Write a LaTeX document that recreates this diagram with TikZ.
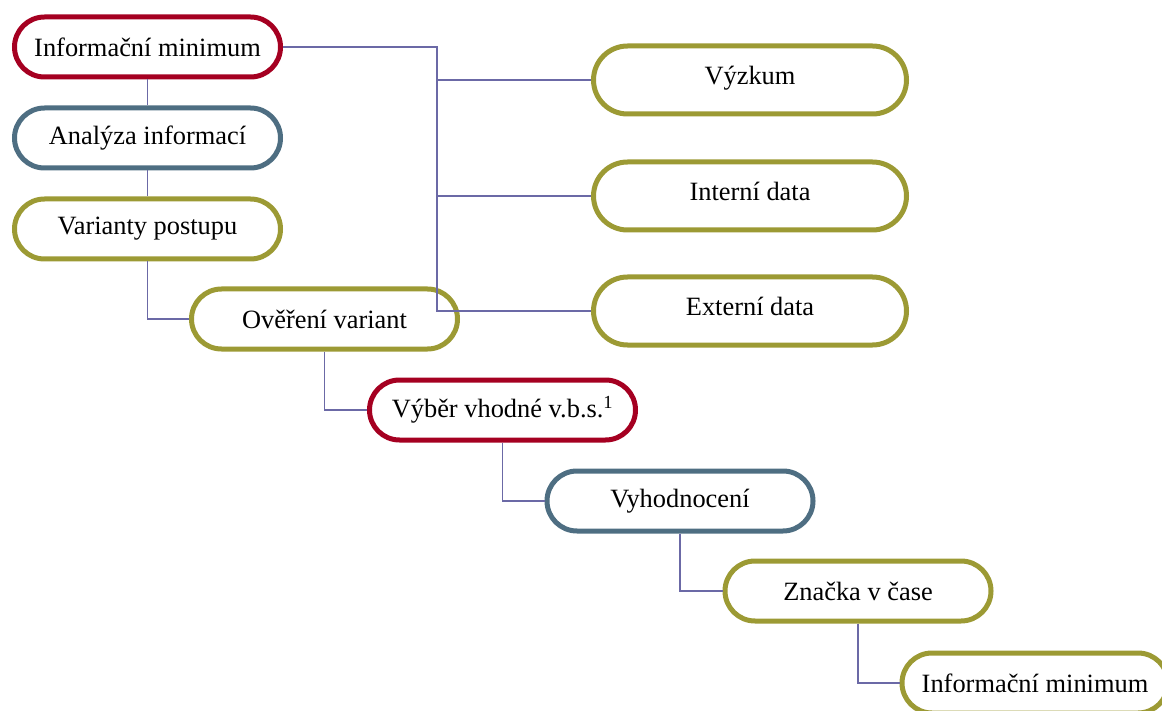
\documentclass[tikz,border=0pt]{standalone}
\usepackage{fontspec}
\setmainfont{Liberation Serif}
\definecolor{ringred}{HTML}{A50021}
\definecolor{ringblue}{HTML}{4E6E82}
\definecolor{ringolive}{HTML}{9C9A34}
\definecolor{linkcol}{HTML}{6B69A6}
\tikzset{
  stage/.style={draw, line width=5pt, rounded corners=30pt, minimum width=266pt,
    minimum height=60pt, inner sep=0pt, font=\fontsize{26.4}{30}\selectfont},
  source/.style={stage, draw=ringolive, minimum width=313pt, minimum height=68pt,
    rounded corners=34pt, text height=18pt, text depth=8pt},
  link/.style={draw=linkcol, line width=1.8pt}
}
\begin{document}
\begin{tikzpicture}[x=1pt, y=-1pt]
    % Frame of the page
    \useasboundingbox (0,0) rectangle (1162,711);
    \clip (0,0) rectangle (1162,711);

    % Steps on the left, falling to the right
    \node[stage, draw=ringred]   (infmin)  at (147.5, 47)  {Informační minimum};
    \node[stage, draw=ringblue]  (analyza) at (147.5, 138) {Analýza informací};
    \node[stage, draw=ringolive] (varianty) at (147.5, 229) {Varianty postupu};
    \node[stage, draw=ringolive] (overeni) at (324.5, 319) {Ověření variant};
    \node[stage, draw=ringred]   (vyber)   at (502.5, 410) {Výběr vhodné v.b.s.\textsuperscript{1}};
    \node[stage, draw=ringblue]  (vyhodn)  at (680, 501)   {Vyhodnocení};
    \node[stage, draw=ringolive] (znacka)  at (858, 591)   {Značka v čase};
    \node[stage, draw=ringolive] (infmin2) at (1035, 683)  {Informační minimum};

    % Sources on the right
    \node[source] (vyzkum)  at (750, 80)  {Výzkum};
    \node[source] (interni) at (750, 196) {Interní data};
    \node[source] (externi) at (750, 311) {Externí data};

    % Links between the steps
    \draw[link] (infmin.south) -- (analyza.north);
    \draw[link] (analyza.south) -- (varianty.north);
    \draw[link] (varianty.south) |- (overeni.west);
    \draw[link] (overeni.south) |- (vyber.west);
    \draw[link] (vyber.south) |- (vyhodn.west);
    \draw[link] (vyhodn.south) |- (znacka.west);
    \draw[link] (znacka.south) |- (infmin2.west);

    % Trunk to the sources
    \coordinate (trunk) at (437, 47);
    \draw[link] (infmin.east) -- (trunk) |- (externi.west);
    \draw[link] (trunk |- vyzkum.west) -- (vyzkum.west);
    \draw[link] (trunk |- interni.west) -- (interni.west);
\end{tikzpicture}
\end{document}
